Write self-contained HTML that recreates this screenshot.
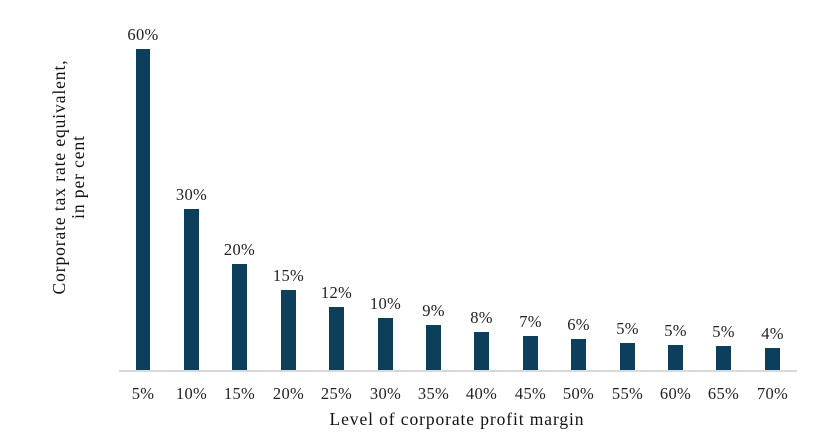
<!DOCTYPE html>
<html><head><meta charset="utf-8"><style>
html,body{margin:0;padding:0;background:#fff;}
svg{display:block;font-family:"Liberation Serif",serif;}
</style></head><body>
<svg width="835" height="443" viewBox="0 0 835 443">
<line x1="119" y1="371" x2="797" y2="371" stroke="#d9d9d9" stroke-width="2"/>
<g fill="#0b3f5c">
<rect x="136" y="49" width="14" height="321"/>
<rect x="184" y="209" width="15" height="161"/>
<rect x="232" y="264" width="15" height="106"/>
<rect x="281" y="290" width="15" height="80"/>
<rect x="329" y="307" width="15" height="63"/>
<rect x="378" y="318" width="15" height="52"/>
<rect x="426" y="325" width="15" height="45"/>
<rect x="474" y="332" width="15" height="38"/>
<rect x="523" y="336" width="15" height="34"/>
<rect x="571" y="339" width="15" height="31"/>
<rect x="620" y="343" width="15" height="27"/>
<rect x="668" y="345" width="15" height="25"/>
<rect x="716" y="346" width="15" height="24"/>
<rect x="765" y="348" width="15" height="22"/>
</g>
<g font-size="16.5" fill="#222" text-anchor="middle" letter-spacing="0.3">
<text x="143" y="40">60%</text>
<text x="191.5" y="200">30%</text>
<text x="239.5" y="255">20%</text>
<text x="288.5" y="281">15%</text>
<text x="336.5" y="298">12%</text>
<text x="385.5" y="309">10%</text>
<text x="433.5" y="316">9%</text>
<text x="481.5" y="323">8%</text>
<text x="530.5" y="327">7%</text>
<text x="578.5" y="330">6%</text>
<text x="627.5" y="334">5%</text>
<text x="675.5" y="336">5%</text>
<text x="723.5" y="337">5%</text>
<text x="772.5" y="339">4%</text>
</g>
<g font-size="16.5" fill="#222" text-anchor="middle" letter-spacing="0.3">
<text x="143" y="399">5%</text>
<text x="191.5" y="399">10%</text>
<text x="239.5" y="399">15%</text>
<text x="288.5" y="399">20%</text>
<text x="336.5" y="399">25%</text>
<text x="385.5" y="399">30%</text>
<text x="433.5" y="399">35%</text>
<text x="481.5" y="399">40%</text>
<text x="530.5" y="399">45%</text>
<text x="578.5" y="399">50%</text>
<text x="627.5" y="399">55%</text>
<text x="675.5" y="399">60%</text>
<text x="723.5" y="399">65%</text>
<text x="772.5" y="399">70%</text>
</g>
<text x="457" y="425" font-size="17.5" fill="#111" text-anchor="middle" letter-spacing="0.9">Level of corporate profit margin</text>
<g font-size="17.5" fill="#111" text-anchor="middle" letter-spacing="0.9">
<text transform="translate(65,177) rotate(-90)">Corporate tax rate equivalent,</text>
<text transform="translate(84,177) rotate(-90)">in per cent</text>
</g>
</svg>
</body></html>
